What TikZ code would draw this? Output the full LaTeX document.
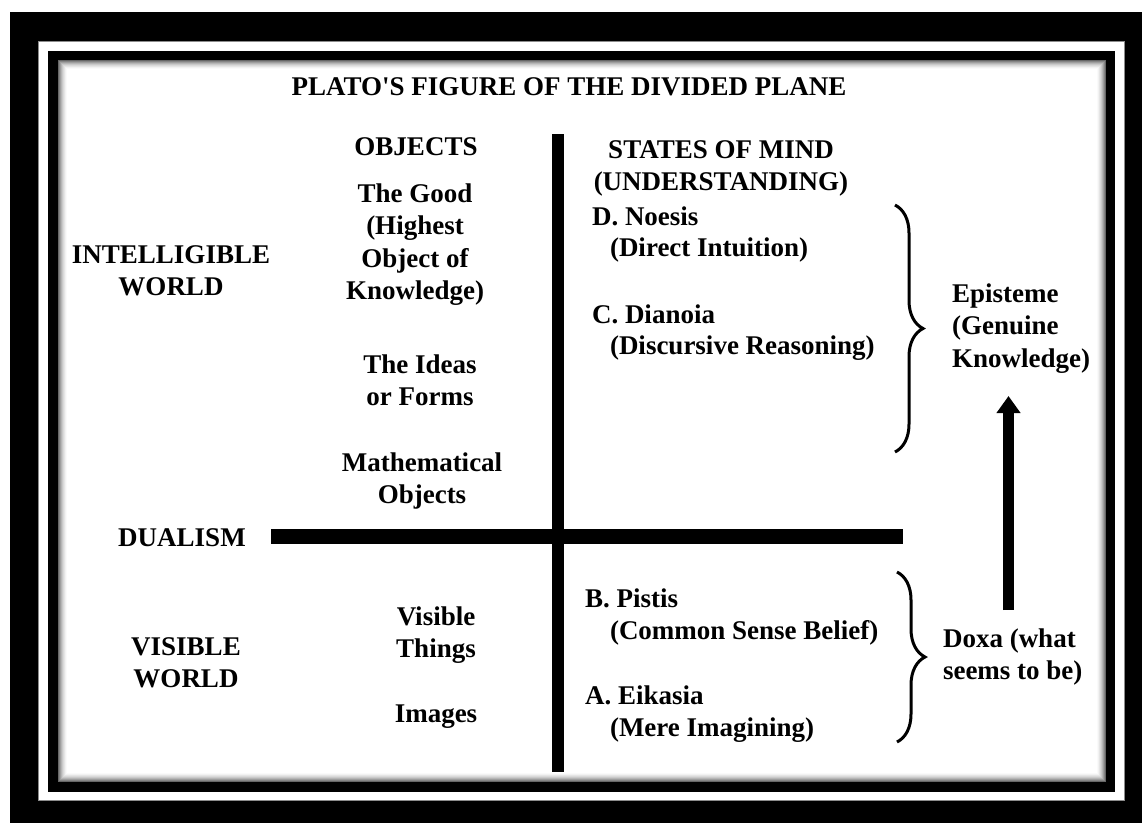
\documentclass[tikz,border=0pt]{standalone}
\usepackage{fontspec}
\setmainfont{Liberation Serif}
\usetikzlibrary{decorations.pathreplacing,arrows.meta}
\newcommand{\stackc}[1]{\begin{tabular}[t]{@{}c@{}}#1\end{tabular}}
\newcommand{\stackl}[1]{\begin{tabular}[t]{@{}l@{}}#1\end{tabular}}
\begin{document}
\begin{tikzpicture}[x=1pt,y=-1pt,
  txt/.style={font=\fontsize{27}{32.5}\selectfont\bfseries, inner sep=0pt, outer sep=0pt},
  barline/.style={line width=#1, line cap=butt, black},
  bracestyle/.style={decorate, decoration={brace, amplitude=28pt}, line width=3pt},
  arrowstyle/.style={line width=11pt, -{Triangle[width=23pt,length=17pt]}}]
\useasboundingbox (0,0) rectangle (1142,823);
% frame
\fill[white] (0,0) rectangle (1142,823);
\fill[black] (10,12) rectangle (1142,823);
\fill[white] (38,41) rectangle (1125,801);
\draw[black!45, line width=0.8pt] (38.4,41.4) rectangle (1124.6,800.6);
\fill[black] (48,51) rectangle (1115,792);
\fill[white] (58,60) rectangle (1106,782);
\foreach \i/\p in {0/60,1/48,2/38,3/29,4/21,5/15,6/10,7/5,8/2}
  \draw[black!\p, line width=1pt] (58.5+\i,60.5+\i) rectangle (1105.5-\i,781.5-\i);
% bars
\coordinate (vtop) at (558,134);
\coordinate (vbot) at (558,772);
\coordinate (hleft) at (271,536.5);
\coordinate (hright) at (903,536.5);
\draw[barline=12pt] (vtop) -- (vbot);
\draw[barline=15pt] (hleft) -- (hright);
% texts
\node[txt, anchor=base] (title) at (569,95) {PLATO\textquotesingle S FIGURE OF THE DIVIDED PLANE};
\node[txt, anchor=base] (objects) at (416,155) {OBJECTS};
\node[txt, anchor=base] (good) at (415,202) {\stackc{The Good\\(Highest\\Object of\\Knowledge)}};
\node[txt, anchor=base] (intel) at (171,263) {\stackc{INTELLIGIBLE\\WORLD}};
\node[txt, anchor=base] (ideas) at (420,373) {\stackc{The Ideas\\or Forms}};
\node[txt, anchor=base] (math) at (422,471) {\stackc{Mathematical\\Objects}};
\node[txt, anchor=base] (dual) at (182,546) {DUALISM};
\node[txt, anchor=base] (visw) at (186,655) {\stackc{VISIBLE\\WORLD}};
\node[txt, anchor=base] (visthings) at (436,625) {\stackc{Visible\\Things}};
\node[txt, anchor=base] (images) at (436,722) {Images};
\node[txt, anchor=base] (states) at (721,158) {\stackc{STATES OF MIND\\(UNDERSTANDING)}};
\node[txt, anchor=base west] (noesis) at (592,225) {\stackl{D. Noesis\\[-1.5pt]\hspace*{18pt}(Direct Intuition)}};
\node[txt, anchor=base west] (dianoia) at (592,323) {\stackl{C. Dianoia\\[-1.5pt]\hspace*{18pt}(Discursive Reasoning)}};
\node[txt, anchor=base west] (pistis) at (585,607) {\stackl{B. Pistis\\\hspace*{25pt}(Common Sense Belief)}};
\node[txt, anchor=base west] (eikasia) at (585,704) {\stackl{A. Eikasia\\\hspace*{25pt}(Mere Imagining)}};
\node[txt, anchor=base west] (episteme) at (952,302) {\stackl{Episteme\\(Genuine\\Knowledge)}};
\node[txt, anchor=base west] (doxa) at (943,647) {\stackl{Doxa (what\\seems to be)}};
% braces
\coordinate (b1top) at (895,205);
\coordinate (b1bot) at (895,452);
\coordinate (b2top) at (897,572);
\coordinate (b2bot) at (897,742);
\draw[bracestyle] (b1top) -- (b1bot);
\draw[bracestyle] (b2top) -- (b2bot);
% arrow
\coordinate (arrS) at (1008.5,610);
\coordinate (arrE) at (1008.5,396);
\draw[arrowstyle] (arrS) -- (arrE);
\end{tikzpicture}
\end{document}
